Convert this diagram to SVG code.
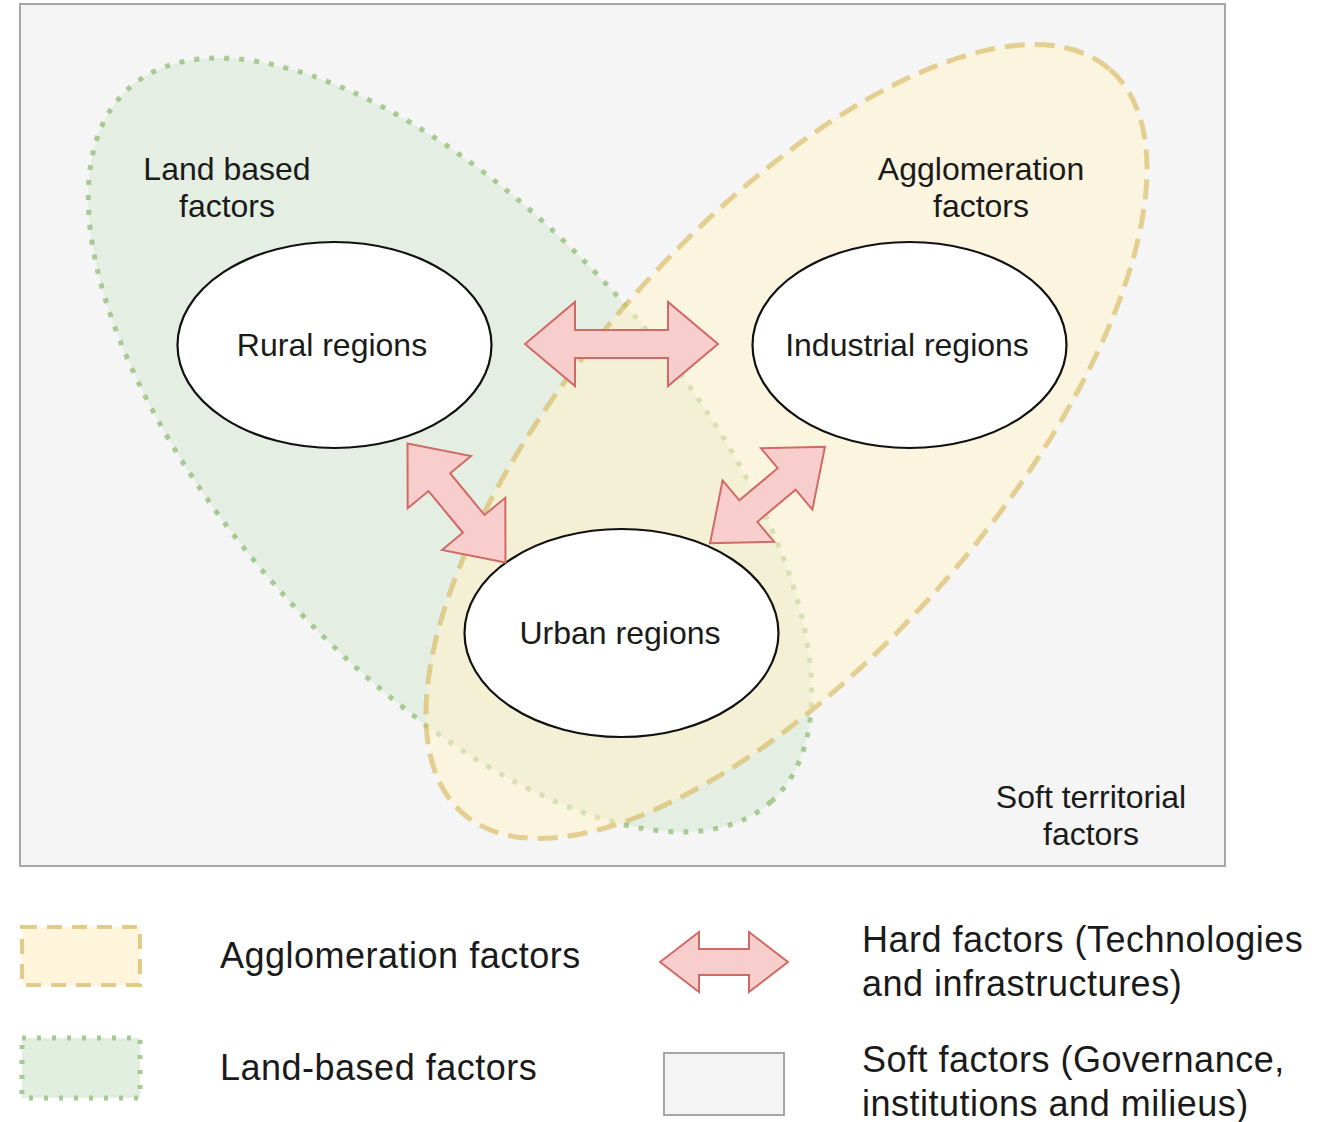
<svg xmlns="http://www.w3.org/2000/svg" width="1325" height="1122" viewBox="0 0 1325 1122">
<style>
.txt{font-family:"Liberation Sans",Arial,sans-serif;fill:#1a1a1a;}
.lbl{font-size:32px;text-anchor:middle;}
.leg{font-size:36px;letter-spacing:0.5px;}
.region{fill:#ffffff;stroke:#111111;stroke-width:2.2;}
.arrow{fill:#f8cecc;stroke:#d06a66;stroke-width:2;stroke-linejoin:miter;}
.land{fill:#d5e8d4;fill-opacity:0.55;stroke:#82b366;stroke-opacity:0.65;stroke-width:5;stroke-dasharray:5 10;}
.agg{fill:#fff2cc;fill-opacity:0.55;stroke:#d6b656;stroke-opacity:0.6;stroke-width:5;stroke-dasharray:20 10;}
.soft{fill:#f5f5f5;stroke:#a6a6a6;stroke-width:2;}
</style>
<rect width="1325" height="1122" fill="#ffffff"/>
<g id="soft-territorial">
  <rect class="soft" x="20" y="4" width="1205" height="862"/>
  <text class="txt lbl" x="1091" y="808">Soft territorial</text>
  <text class="txt lbl" x="1091" y="845">factors</text>
</g>
<g id="land-based">
  <ellipse class="land" cx="450" cy="445" rx="480" ry="224" transform="rotate(48 450 445)"/>
</g>
<g id="agglomeration">
  <ellipse class="agg" cx="786.5" cy="441.5" rx="493" ry="211" transform="rotate(-49 786.5 441.5)"/>
</g>
<g id="land-based-label">
  <text class="txt lbl" x="227" y="180">Land based</text>
  <text class="txt lbl" x="227" y="217">factors</text>
</g>
<g id="agglomeration-label">
  <text class="txt lbl" x="981" y="180">Agglomeration</text>
  <text class="txt lbl" x="981" y="217">factors</text>
</g>
<g id="rural">
  <ellipse class="region" cx="334.5" cy="345" rx="157" ry="103"/>
  <text class="txt lbl" x="332" y="356">Rural regions</text>
</g>
<g id="industrial">
  <ellipse class="region" cx="909.5" cy="345" rx="157" ry="103"/>
  <text class="txt lbl" x="907" y="356">Industrial regions</text>
</g>
<g id="urban">
  <ellipse class="region" cx="621.5" cy="633" rx="157" ry="104"/>
  <text class="txt lbl" x="620" y="644">Urban regions</text>
</g>
<g id="connectors">
  <path class="arrow" transform="translate(621.5 344)" d="M -96.5,0 L -46.5,-42 L -46.5,-14 L 46.5,-14 L 46.5,-42 L 96.5,0 L 46.5,42 L 46.5,14 L -46.5,14 L -46.5,42 Z"/>
  <path class="arrow" transform="translate(456.5 503) rotate(50.5)" d="M -77,0 L -27,-41 L -27,-14 L 27,-14 L 27,-41 L 77,0 L 27,41 L 27,14 L -27,14 L -27,41 Z"/>
  <path class="arrow" transform="translate(767.5 495) rotate(-40)" d="M -75,0 L -25,-40 L -25,-14 L 25,-14 L 25,-40 L 75,0 L 25,40 L 25,14 L -25,14 L -25,40 Z"/>
</g>
<g id="legend-agglomeration">
  <rect x="22" y="927" width="118" height="58" fill="#fff2cc" stroke="#d6b656" stroke-width="4" stroke-dasharray="15 10" opacity="0.7"/>
  <text class="txt leg" x="220" y="968">Agglomeration factors</text>
</g>
<g id="legend-land">
  <rect x="22" y="1038" width="118" height="60" fill="#d5e8d4" stroke="#82b366" stroke-width="5" stroke-dasharray="4 11" opacity="0.7"/>
  <text class="txt leg" x="220" y="1080">Land-based factors</text>
</g>
<g id="legend-hard">
  <path class="arrow" transform="translate(724 962)" d="M -64,0 L -25,-30 L -25,-13 L 25,-13 L 25,-30 L 64,0 L 25,30 L 25,13 L -25,13 L -25,30 Z"/>
  <text class="txt leg" x="862" y="952">Hard factors (Technologies</text>
  <text class="txt leg" x="862" y="996">and infrastructures)</text>
</g>
<g id="legend-soft">
  <rect class="soft" x="664" y="1053" width="120" height="62"/>
  <text class="txt leg" x="862" y="1072">Soft factors (Governance,</text>
  <text class="txt leg" x="862" y="1116">institutions and milieus)</text>
</g>
</svg>
